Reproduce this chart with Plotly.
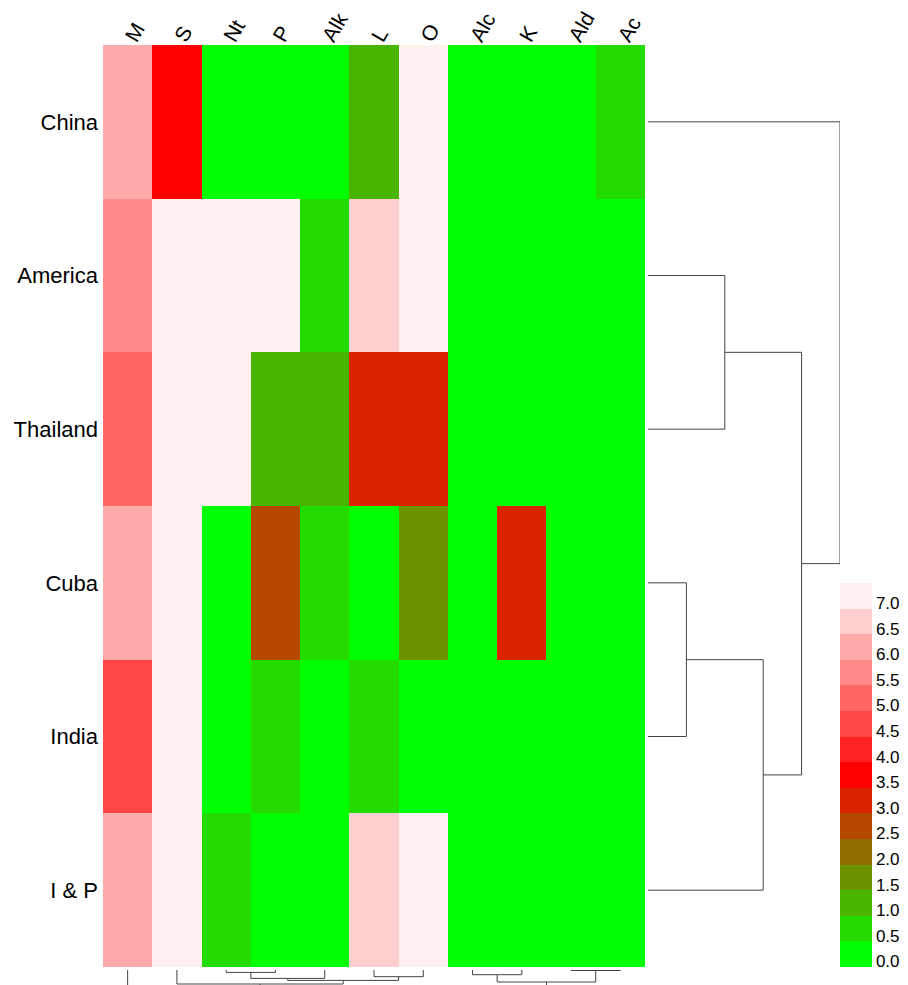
import plotly.graph_objects as go

# ---------------- data ----------------
rows = ["China", "America", "Thailand", "Cuba", "India", "I & P"]
cols = ["M", "S", "Nt", "P", "Alk", "L", "O", "Alc", "K", "Ald", "Ac"]

china    = [6.0, 3.5, 0.0, 0.0, 0.0, 1.0, 7.0, 0.0, 0.0, 0.0, 0.5]
america  = [5.5, 7.0, 7.0, 7.0, 0.5, 6.5, 7.0, 0.0, 0.0, 0.0, 0.0]
thailand = [5.0, 7.0, 7.0, 1.0, 1.0, 3.0, 3.0, 0.0, 0.0, 0.0, 0.0]
cuba     = [6.0, 7.0, 0.0, 2.5, 0.5, 0.0, 1.5, 0.0, 3.0, 0.0, 0.0]
india    = [4.5, 7.0, 0.0, 0.5, 0.0, 0.5, 0.0, 0.0, 0.0, 0.0, 0.0]
ip       = [6.0, 7.0, 0.5, 0.0, 0.0, 6.5, 7.0, 0.0, 0.0, 0.0, 0.0]
z = [china, america, thailand, cuba, india, ip]

legend_values = [0.0, 0.5, 1.0, 1.5, 2.0, 2.5, 3.0, 3.5, 4.0, 4.5, 5.0, 5.5, 6.0, 6.5, 7.0]
legend_labels = ["%.1f" % v for v in legend_values]
palette = ["#00FF00", "#24DB00", "#48B600", "#6D9200", "#916D00", "#B64900", "#DA2400",
           "#FF0000", "#FF2222", "#FF4545", "#FF6767", "#FF8989", "#FFABAB", "#FFCECE", "#FFF0F0"]

# dendrogram linkages: (left id, right id, height); leaves 0..n-1, merges n, n+1, ...
row_merges = [(3, 4, 1), (1, 2, 2), (6, 5, 3), (7, 8, 4), (0, 9, 5)]
col_merges = [(9, 10, 0.5), (2, 3, 2.4), (7, 8, 4.7), (5, 6, 6.7), (12, 4, 8.4),
              (15, 14, 10.4), (13, 11, 12.0), (1, 16, 14.0), (18, 17, 20.0), (0, 19, 26.0)]


def dendro_segments(n, merges):
    pos = {i: float(i) for i in range(n)}
    hgt = {i: 0.0 for i in range(n)}
    a, b = [], []   # a: leaf-position coordinate, b: height coordinate
    for k, (l, r, h) in enumerate(merges):
        a += [pos[l], pos[l], pos[r], pos[r], None]
        b += [hgt[l], h, h, hgt[r], None]
        pos[n + k] = (pos[l] + pos[r]) / 2
        hgt[n + k] = h
    return a, b


# the page body has an 8px margin, so the figure is 8px smaller and positions are shifted
OFF = 8
W, H = 908 - OFF, 985 - OFF


def px(x):
    return (x - OFF) / W


def py(y):
    return 1 - (y - OFF) / H


font = "Liberation Sans, Arial, sans-serif"

n = len(legend_values)
step = 0.5
zmin, zmax = legend_values[0] - step / 2, legend_values[-1] + step / 2
cs = []
for i, c in enumerate(palette):
    cs.append([i / n, c])
    cs.append([(i + 1) / n, c])

fig = go.Figure()
fig.add_trace(go.Heatmap(
    z=z, x=list(range(len(cols))), y=list(range(len(rows))),
    zmin=zmin, zmax=zmax, colorscale=cs, hoverinfo="skip",
    colorbar=dict(
        x=px(840), xanchor="left", y=py(967), yanchor="bottom",
        len=384, lenmode="pixels", thickness=32, thicknessmode="pixels",
        xpad=0, ypad=0, outlinewidth=0, ticks="",
        tickvals=[v - 0.14 for v in legend_values], ticktext=legend_labels,
        tickfont=dict(family=font, size=17, color="black"),
    ),
))

ra, rb = dendro_segments(len(rows), row_merges)
fig.add_trace(go.Scatter(x=rb, y=ra, mode="lines", xaxis="x2", yaxis="y",
                         line=dict(color="#444444", width=1), hoverinfo="skip", showlegend=False))
ca, cb = dendro_segments(len(cols), col_merges)
fig.add_trace(go.Scatter(x=ca, y=cb, mode="lines", xaxis="x", yaxis="y3",
                         line=dict(color="#444444", width=1), hoverinfo="skip", showlegend=False))

ax_common = dict(showgrid=False, zeroline=False, showline=False, ticks="", automargin=False)
fig.update_layout(
    width=W, height=H, margin=dict(l=0, r=0, t=0, b=0, autoexpand=False),
    paper_bgcolor="white", plot_bgcolor="white", showlegend=False,
    xaxis=dict(domain=[px(103), px(645)], range=[-0.5, len(cols) - 0.5], side="top",
               tickvals=list(range(len(cols))), ticktext=cols, tickangle=-60,
               ticklabelstandoff=-9,
               tickfont=dict(family=font, size=21, color="black"), anchor="y", **ax_common),
    yaxis=dict(domain=[py(967), py(45)], range=[len(rows) - 0.5, -0.5],
               tickvals=list(range(len(rows))), ticktext=rows, ticklabelstandoff=4,
               tickfont=dict(family=font, size=22, color="black"), anchor="x", **ax_common),
    xaxis2=dict(domain=[px(648), px(840)], range=[0, 5], anchor="y", showticklabels=False, **ax_common),
    yaxis3=dict(domain=[py(985), py(970)], range=[15, 0], anchor="x", showticklabels=False, **ax_common),
)

fig.write_html("out.html")
